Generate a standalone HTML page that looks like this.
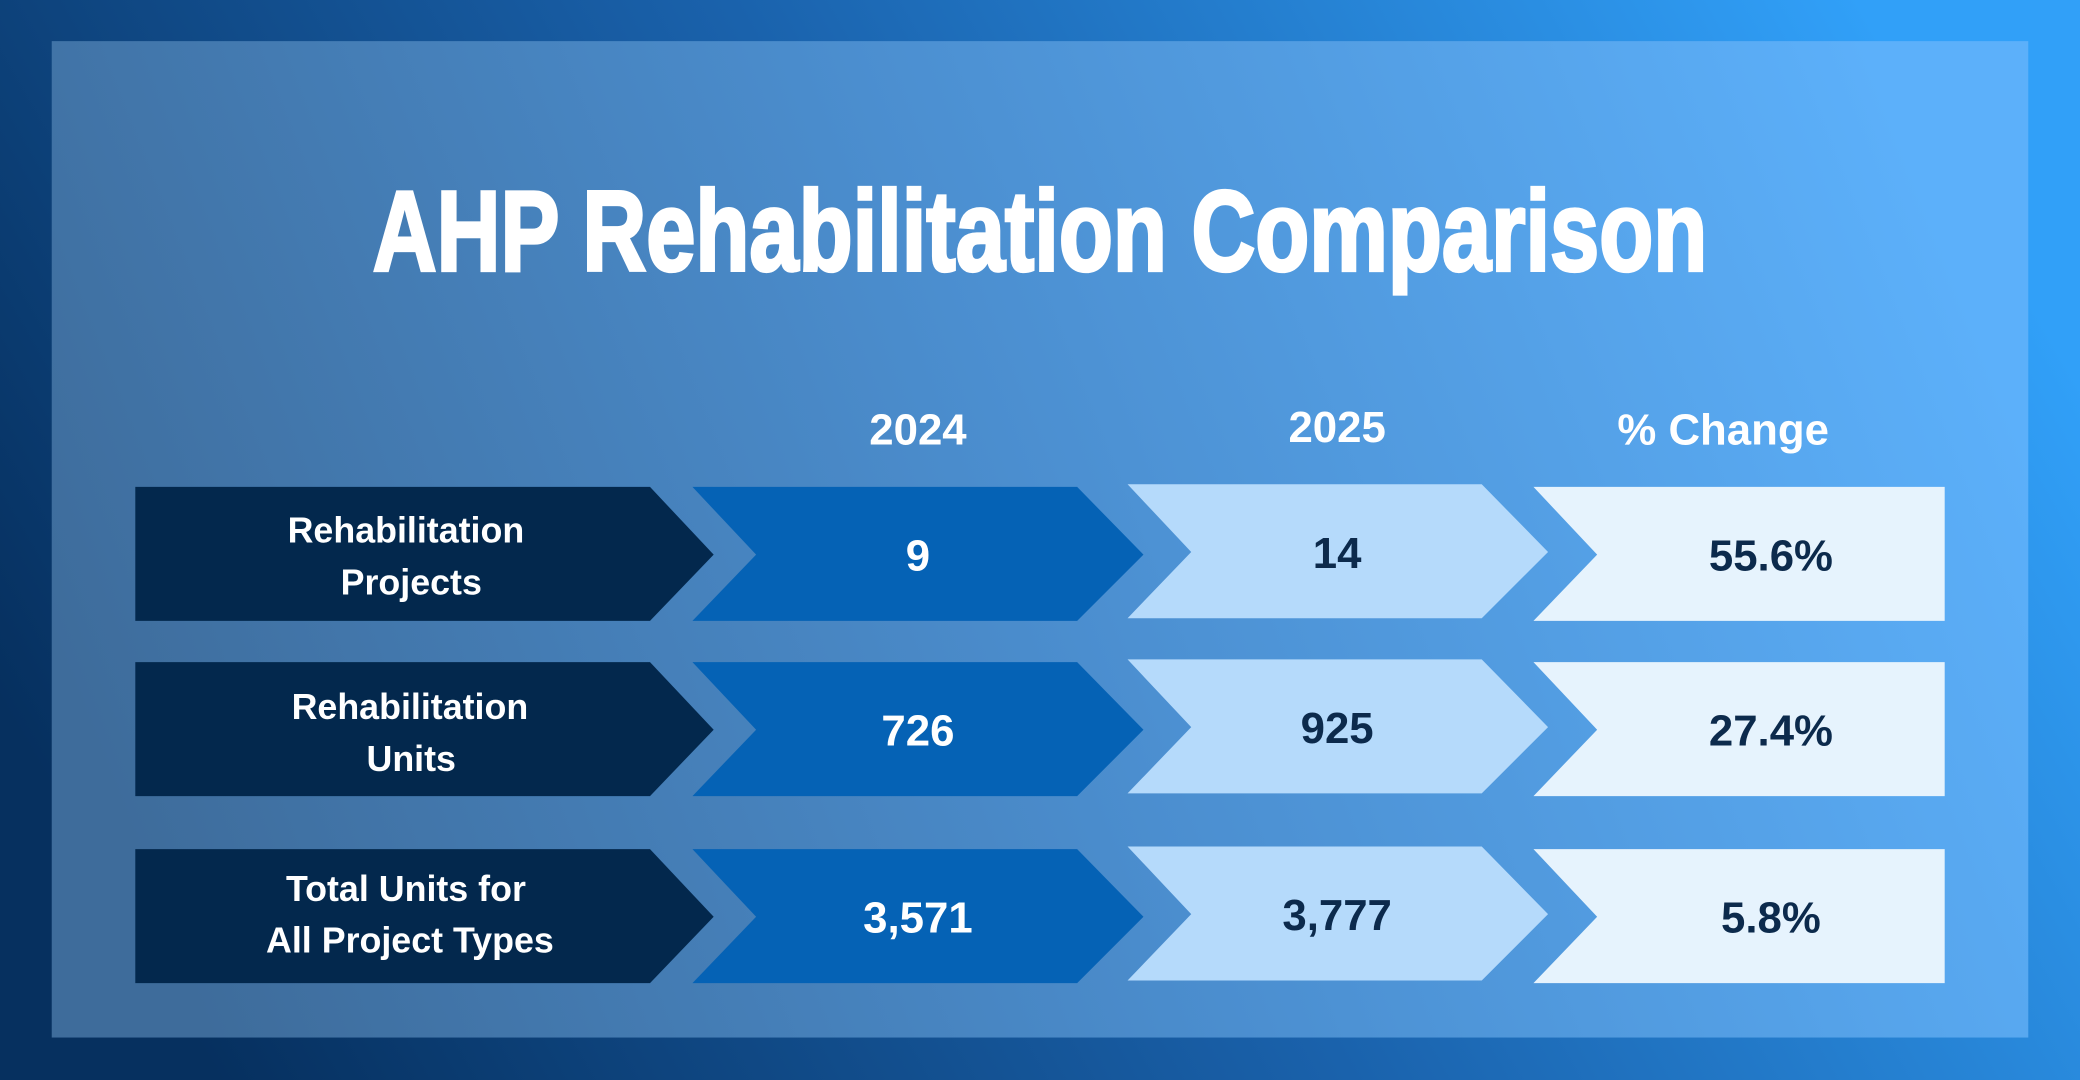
<!DOCTYPE html>
<html><head><meta charset="utf-8"><style>
html,body{margin:0;padding:0;width:2080px;height:1080px;overflow:hidden}
svg{display:block}
text{font-family:"Liberation Sans",sans-serif;font-weight:bold}
</style></head><body>
<svg width="2080" height="1080" viewBox="0 0 1568 814" preserveAspectRatio="none">
<defs>
<linearGradient id="bg" x1="0" y1="0.65" x2="1" y2="0.35">
<stop offset="0" stop-color="#06305f"/><stop offset="0.5" stop-color="#1a62ac"/><stop offset="1" stop-color="#31a0f8"/>
</linearGradient>
<linearGradient id="pn" x1="0" y1="0.6" x2="1" y2="0.4">
<stop offset="0" stop-color="#3e6c9b"/><stop offset="0.5" stop-color="#4b8ecf"/><stop offset="1" stop-color="#5cb0fa"/>
</linearGradient>
</defs>
<rect width="1568" height="814" fill="url(#bg)"/>
<rect x="39" y="31" width="1490" height="751" fill="url(#pn)"/>
<text x="784" y="204" text-anchor="middle" font-size="86" fill="#fff" stroke="#fff" stroke-width="2.5" textLength="1006" lengthAdjust="spacingAndGlyphs" style="font-family:'Liberation Sans Narrow','Liberation Sans',sans-serif">AHP Rehabilitation Comparison</text>
<g font-size="33" fill="#fff" text-anchor="middle">
<text x="692" y="335">2024</text><text x="1008" y="333">2025</text><text x="1299" y="335">% Change</text>
</g>
<g>
<polygon points="102,367 490,367 538,418 490,468 102,468" fill="#03284d"/>
<polygon points="522,367 812,367 862,418 812,468 522,468 570,418" fill="#0562b5"/>
<polygon points="850,365 1117,365 1167,416 1117,466 850,466 898,416" fill="#b5dafb"/>
<polygon points="1156,367 1466,367 1466,468 1156,468 1204,418" fill="#e6f3fd"/>
<polygon points="102,499 490,499 538,550 490,600 102,600" fill="#03284d"/>
<polygon points="522,499 812,499 862,550 812,600 522,600 570,550" fill="#0562b5"/>
<polygon points="850,497 1117,497 1167,548 1117,598 850,598 898,548" fill="#b5dafb"/>
<polygon points="1156,499 1466,499 1466,600 1156,600 1204,550" fill="#e6f3fd"/>
<polygon points="102,640 490,640 538,691 490,741 102,741" fill="#03284d"/>
<polygon points="522,640 812,640 862,691 812,741 522,741 570,691" fill="#0562b5"/>
<polygon points="850,638 1117,638 1167,689 1117,739 850,739 898,689" fill="#b5dafb"/>
<polygon points="1156,640 1466,640 1466,741 1156,741 1204,691" fill="#e6f3fd"/>
</g>
<g font-size="27" fill="#fff" text-anchor="middle">
<text x="306" y="409">Rehabilitation</text><text x="310" y="448">Projects</text>
<text x="309" y="542">Rehabilitation</text><text x="310" y="581">Units</text>
<text x="306" y="679">Total Units for</text><text x="309" y="718">All Project Types</text>
</g>
<g font-size="33" text-anchor="middle">
<text x="692" y="430" fill="#fff">9</text>
<text x="692" y="562" fill="#fff">726</text>
<text x="692" y="703" fill="#fff">3,571</text>
<text x="1008" y="428" fill="#0c2a4c">14</text>
<text x="1008" y="560" fill="#0c2a4c">925</text>
<text x="1008" y="701" fill="#0c2a4c">3,777</text>
<text x="1335" y="430" fill="#0c2a4c">55.6%</text>
<text x="1335" y="562" fill="#0c2a4c">27.4%</text>
<text x="1335" y="703" fill="#0c2a4c">5.8%</text>
</g>
</svg>
</body></html>
